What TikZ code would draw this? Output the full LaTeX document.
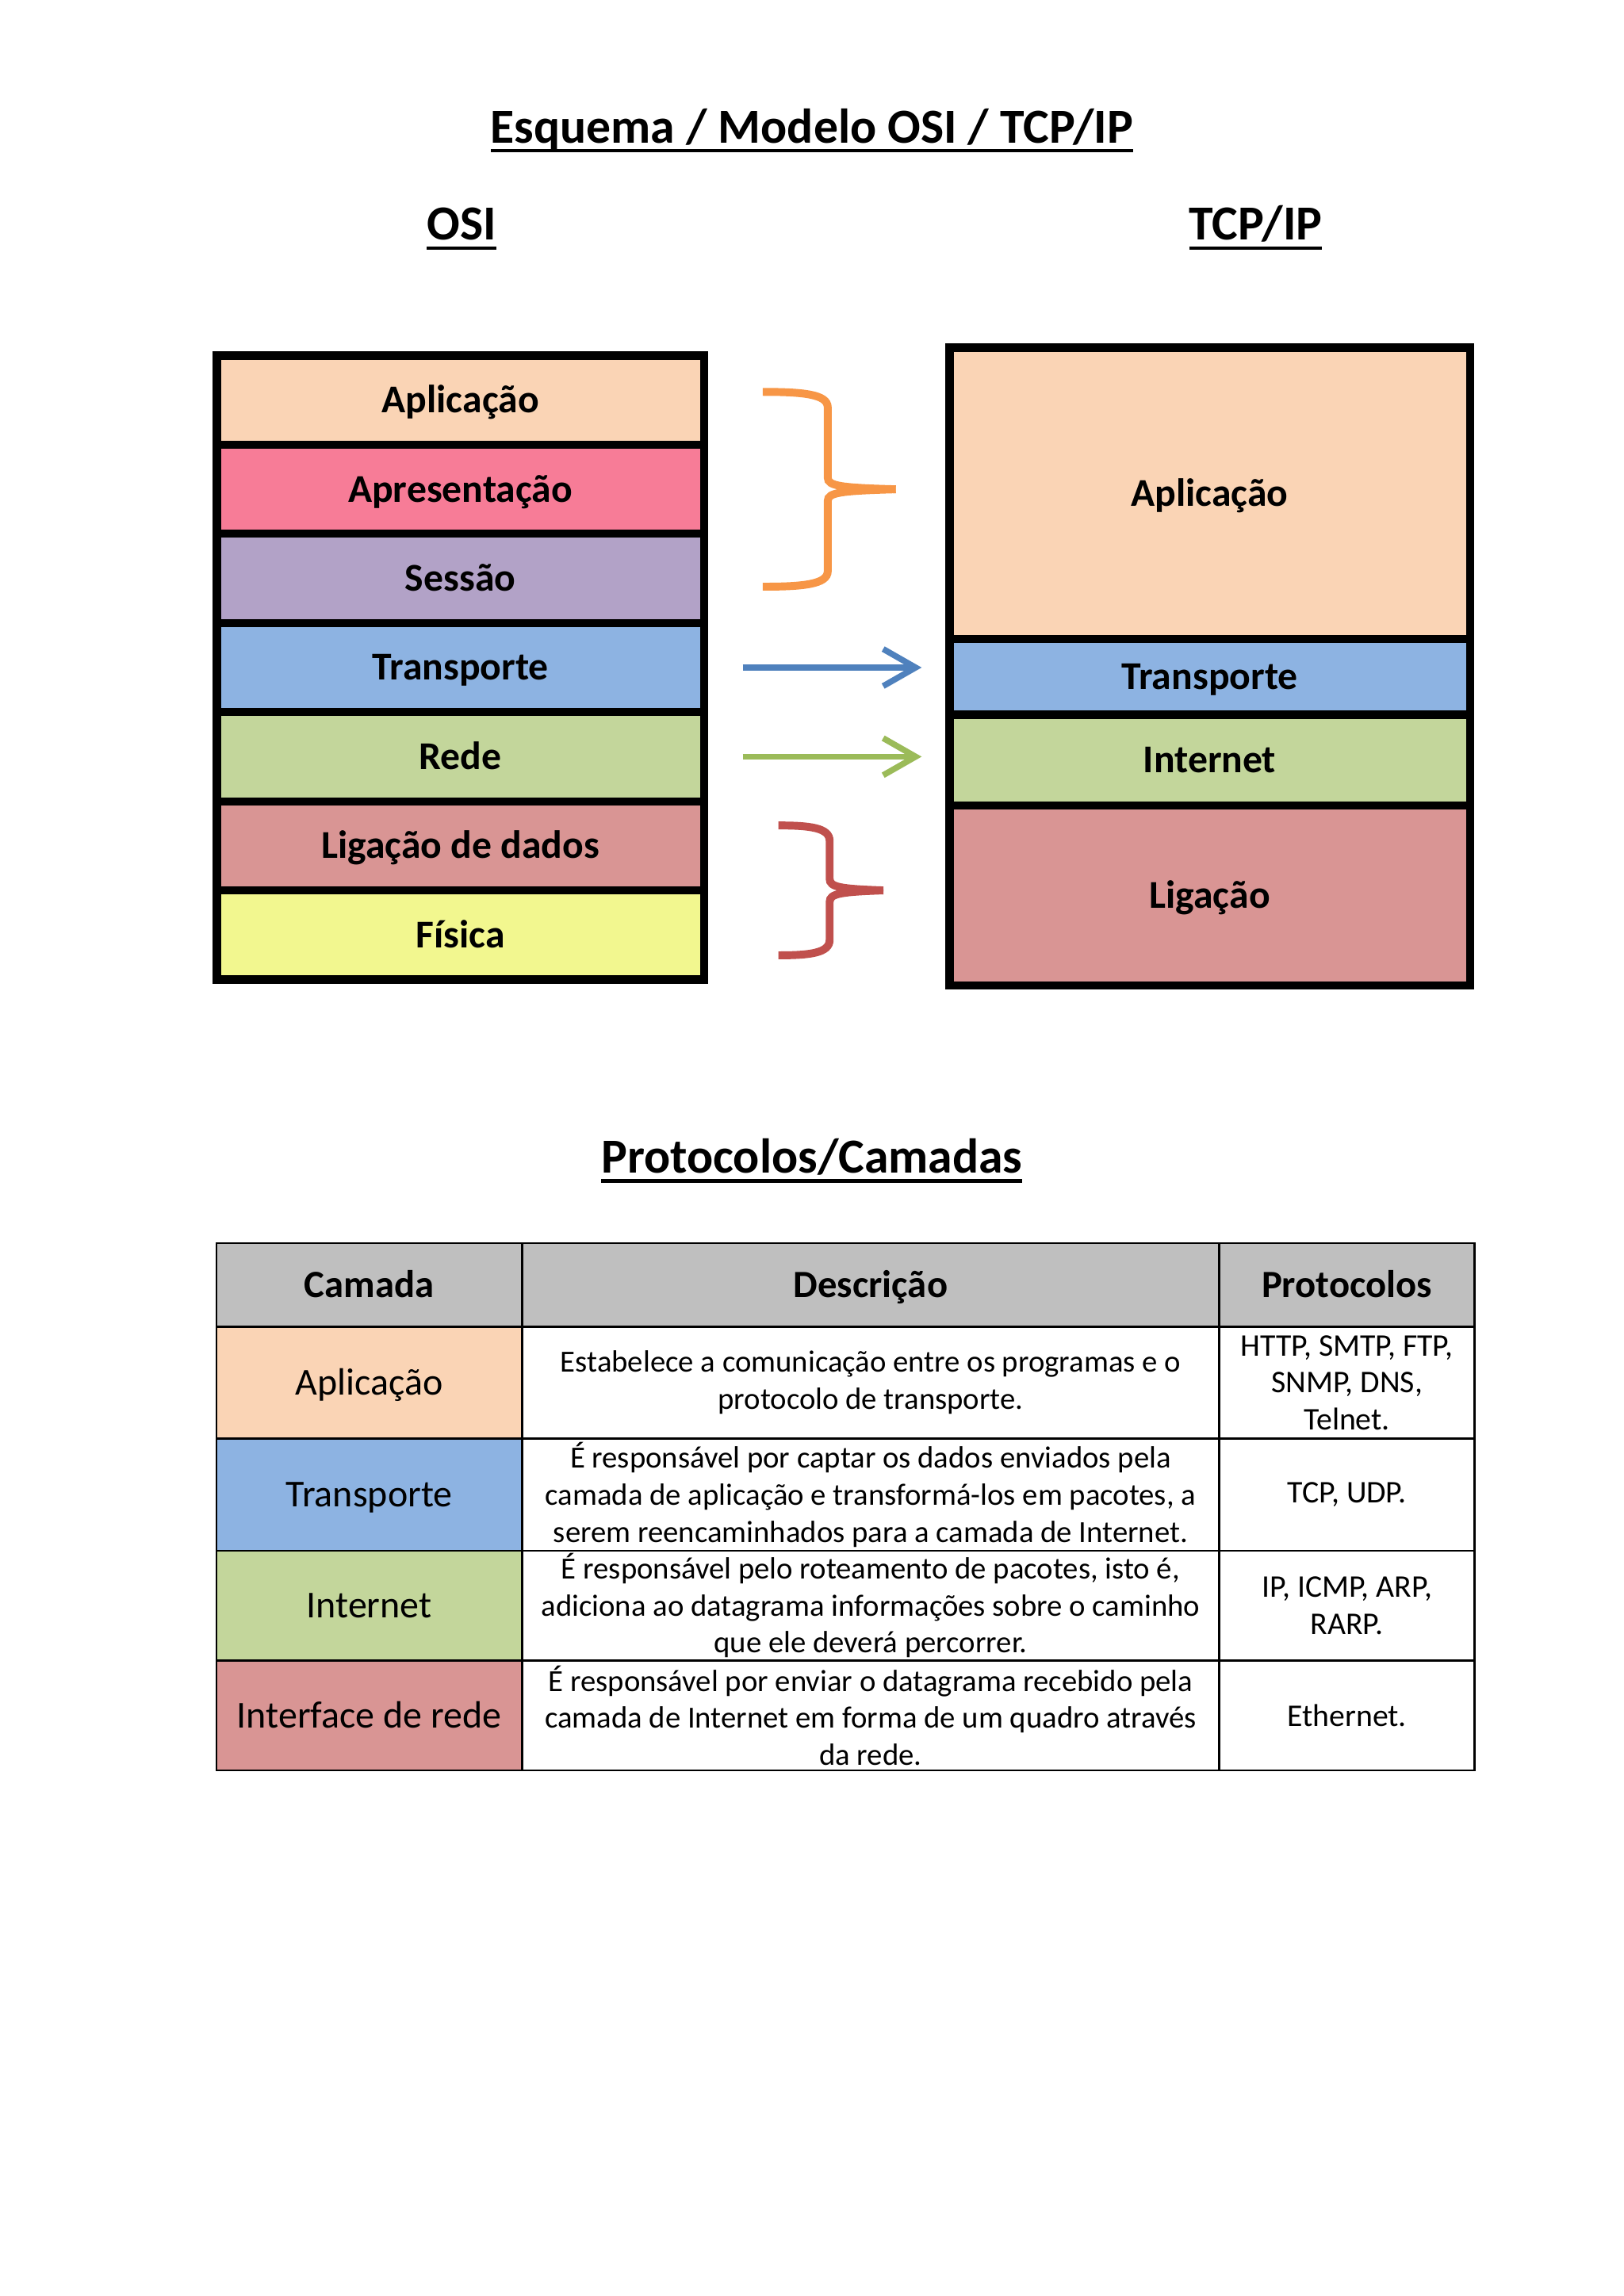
\documentclass[tikz,border=0pt]{standalone}
\usepackage{fontspec}
\setmainfont{Carlito}
\usetikzlibrary{positioning,arrows.meta}
\definecolor{aplcor}{HTML}{FAD4B5}
\definecolor{aprcor}{HTML}{F77C97}
\definecolor{sescor}{HTML}{B2A2C7}
\definecolor{trancor}{HTML}{8DB3E2}
\definecolor{redecor}{HTML}{C3D69B}
\definecolor{ligcor}{HTML}{D99594}
\definecolor{fiscor}{HTML}{F2F78F}
\definecolor{cabcor}{HTML}{BFBFBF}
\definecolor{laranja}{HTML}{F79646}
\definecolor{azul}{HTML}{4F81BD}
\definecolor{verde}{HTML}{9BBB59}
\definecolor{vermelho}{HTML}{C0504D}
\newsavebox\ulbox
\newcommand\sublinha[1]{\sbox\ulbox{#1}\rlap{\vrule height -2.4pt depth 3.6pt width \wd\ulbox}\usebox\ulbox}
\begin{document}
\begin{tikzpicture}[
camada/.style={draw,line width=3pt,inner sep=0pt,outer sep=0pt,text height=9.3pt,text depth=0pt,font=\fontsize{14.5}{17}\selectfont\bfseries},
osi/.style={camada,minimum width=6.30cm,minimum height=1.153cm},
tcp/.style={camada,minimum width=6.73cm},
titulo/.style={font=\fontsize{18}{22}\selectfont\bfseries,inner sep=0pt,anchor=base},
cel/.style={draw,line width=0.8pt,inner sep=0pt,outer sep=0pt,align=center,font=\fontsize{11.3}{13.6}\selectfont},
cab/.style={cel,fill=cabcor,minimum height=1.08cm,text height=9pt,text depth=0pt,font=\fontsize{14.2}{17}\selectfont\bfseries},
nome/.style={cel,minimum width=3.95cm,text height=9pt,text depth=0pt,font=\fontsize{14}{17}\selectfont},
desc/.style={cel,minimum width=9.02cm},
prot/.style={cel,minimum width=3.30cm,font=\fontsize{11.6}{13.6}\selectfont},
seta/.style={line width=2.2pt,-{Straight Barb[length=4.2mm,width=4.8mm]},shorten <=0.5cm,shorten >=0.36cm},
chave/.pic={
\draw(-1.72,#1)..controls(-1.2,#1)and(-0.88,#1-0.03)..(-0.88,#1-0.2)--(-0.88,0.15)..controls(-0.88,0.04)and(-0.7,0.02)..(0,0);
\draw(-1.72,-#1)..controls(-1.2,-#1)and(-0.88,-#1+0.03)..(-0.88,-#1+0.2)--(-0.88,-0.15)..controls(-0.88,-0.04)and(-0.7,-0.02)..(0,0);
}]
\useasboundingbox(0,0)rectangle(21,-29.7);
\node[titulo](tit)at(10.5,-1.846){\sublinha{Esquema / Modelo OSI / TCP/IP}};
\node[titulo](t-osi)at(5.97,-3.107){\sublinha{OSI}};
\node[titulo](t-tcp)at(16.24,-3.107){\sublinha{TCP/IP}};

\node[osi,fill=aplcor](osi-apl)at(5.955,-5.176){Aplicação};
\node[osi,fill=aprcor,below=0pt of osi-apl](osi-apr){Apresentação};
\node[osi,fill=sescor,below=0pt of osi-apr](osi-ses){Sessão};
\node[osi,fill=trancor,below=0pt of osi-ses](osi-tran){Transporte};
\node[osi,fill=redecor,below=0pt of osi-tran](osi-rede){Rede};
\node[osi,fill=ligcor,below=0pt of osi-rede](osi-lig){Ligação de dados};
\node[osi,fill=fiscor,below=0pt of osi-lig](osi-fis){Física};

\node[tcp,fill=aplcor,minimum height=3.77cm](tcp-apl)at(15.645,-6.381){Aplicação};
\node[tcp,fill=trancor,minimum height=0.98cm,below=0pt of tcp-apl](tcp-tran){Transporte};
\node[tcp,fill=redecor,minimum height=1.17cm,below=0pt of tcp-tran](tcp-int){Internet};
\node[tcp,fill=ligcor,minimum height=2.33cm,below=0pt of tcp-int](tcp-lig){Ligação};

\draw[seta,azul](osi-tran.east)--(osi-tran.east-|tcp-tran.west);
\draw[seta,verde](osi-rede.east)--(osi-rede.east-|tcp-int.west);
\path(osi-apr.east)++(2.48,0)pic[color=laranja,line width=2.9pt]{chave=1.26};
\path(osi-lig.south east)++(2.32,0)pic[color=vermelho,line width=2.9pt,xscale=0.79]{chave=0.84};

\node[titulo](t-prot)at(10.5,-15.17){\sublinha{Protocolos/Camadas}};
\node[cab,minimum width=3.95cm](c-cam)at(4.775,-16.62){Camada};
\node[cab,minimum width=9.02cm,right=0pt of c-cam](c-desc){Descrição};
\node[cab,minimum width=3.30cm,right=0pt of c-desc](c-prot){Protocolos};

\node[nome,fill=aplcor,minimum height=1.45cm,below=0pt of c-cam](n-apl){Aplicação};
\node[desc,minimum height=1.45cm,right=0pt of n-apl](d-apl){Estabelece a comunicação entre os programas e o\\protocolo de transporte.};
\node[prot,minimum height=1.45cm,right=0pt of d-apl](p-apl){HTTP, SMTP, FTP,\\SNMP, DNS,\\Telnet.};

\node[nome,fill=trancor,minimum height=1.45cm,below=0pt of n-apl](n-tran){Transporte};
\node[desc,minimum height=1.45cm,right=0pt of n-tran](d-tran){É responsável por captar os dados enviados pela\\camada de aplicação e transformá-los em pacotes, a\\serem reencaminhados para a camada de Internet.};
\node[prot,minimum height=1.45cm,right=0pt of d-tran](p-tran){TCP, UDP.};

\node[nome,fill=redecor,minimum height=1.42cm,below=0pt of n-tran](n-int){Internet};
\node[desc,minimum height=1.42cm,right=0pt of n-int](d-int){É responsável pelo roteamento de pacotes, isto é,\\adiciona ao datagrama informações sobre o caminho\\que ele deverá percorrer.};
\node[prot,minimum height=1.42cm,right=0pt of d-int](p-int){IP, ICMP, ARP,\\RARP.};

\node[nome,fill=ligcor,minimum height=1.42cm,below=0pt of n-int](n-rede){Interface de rede};
\node[desc,minimum height=1.42cm,right=0pt of n-rede](d-rede){É responsável por enviar o datagrama recebido pela\\camada de Internet em forma de um quadro através\\da rede.};
\node[prot,minimum height=1.42cm,right=0pt of d-rede](p-rede){Ethernet.};
\end{tikzpicture}
\end{document}
